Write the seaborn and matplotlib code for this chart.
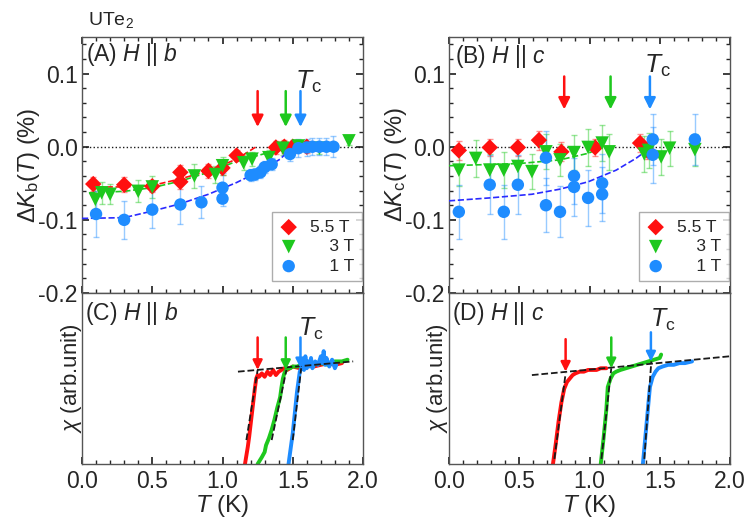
import numpy as np
import seaborn as sns
from matplotlib import pyplot as plt
from matplotlib.ticker import MultipleLocator, NullLocator

RED = "#ff1010"
GREEN = "#1ec81e"
BLUE = "#1e8cff"
FIT_BLUE = "#2a2aff"

# ---- panel A : Knight shift, H || b ----
a_T_55 = [0.08, 0.30, 0.50, 0.70, 0.70, 0.90, 1.00, 1.10, 1.38, 1.44, 1.50, 1.60]
a_K_55 = [-0.051, -0.052, -0.054, -0.035, -0.048, -0.033, -0.029, -0.012, -0.001, 0.0, 0.0, 0.0]
a_E_55 = [0.009, 0.010, 0.008, 0.010, 0.010, 0.010, 0.010, 0.008, 0.009, 0.009, 0.009, 0.008]

a_T_3 = [0.095, 0.14, 0.20, 0.40, 0.50, 0.80, 0.95, 1.00, 1.15, 1.21, 1.33, 1.43, 1.54, 1.69, 1.90]
a_K_3 = [-0.072, -0.063, -0.065, -0.061, -0.055, -0.040, -0.038, -0.026, -0.022, -0.017, -0.015,
         -0.002, 0.001, -0.002, 0.008]
a_E_3 = [0.015, 0.015, 0.014, 0.015, 0.015, 0.017, 0.012, 0.012, 0.010, 0.010, 0.010, 0.010,
         0.008, 0.008, 0.006]

a_T_1 = [0.10, 0.30, 0.50, 0.70, 0.85, 1.00, 1.00, 1.20, 1.23, 1.27, 1.30, 1.35, 1.48, 1.54,
         1.60, 1.64, 1.69, 1.74, 1.79]
a_K_1 = [-0.092, -0.100, -0.086, -0.079, -0.076, -0.071, -0.056, -0.039, -0.038, -0.035, -0.028,
         -0.024, -0.010, -0.002, -0.001, 0.0, 0.0, 0.0, 0.0]
a_E_1 = [0.032, 0.026, 0.025, 0.026, 0.022, 0.010, 0.020, 0.008, 0.008, 0.008, 0.008, 0.008,
         0.010, 0.012, 0.012, 0.012, 0.012, 0.012, 0.014]

a_fit_T_55 = [0.05, 0.30, 0.50, 0.70, 0.90, 1.10, 1.24]
a_fit_K_55 = [-0.055, -0.055, -0.053, -0.044, -0.033, -0.017, 0.0]
a_fit_T_3 = [0.05, 0.30, 0.50, 0.70, 0.90, 1.10, 1.29, 1.43]
a_fit_K_3 = [-0.063, -0.061, -0.056, -0.047, -0.035, -0.020, -0.010, 0.0]
a_fit_T_1 = [0.0, 0.30, 0.50, 0.70, 0.90, 1.10, 1.29, 1.41, 1.50]
a_fit_K_1 = [-0.098, -0.097, -0.088, -0.078, -0.065, -0.049, -0.031, -0.017, 0.0]

# ---- panel B : Knight shift, H || c ----
b_T_55 = [0.07, 0.29, 0.49, 0.64, 0.80, 1.04, 1.36, 1.41]
b_K_55 = [-0.005, -0.001, -0.001, 0.009, -0.007, -0.001, 0.005, -0.005]
b_E_55 = [0.013, 0.012, 0.012, 0.013, 0.013, 0.012, 0.012, 0.012]

b_T_3 = [0.07, 0.19, 0.29, 0.39, 0.49, 0.59, 0.69, 0.79, 0.89, 0.99, 1.09, 1.14, 1.39, 1.42,
         1.51, 1.57, 1.75]
b_K_3 = [-0.032, -0.016, -0.032, -0.032, -0.027, -0.034, -0.007, -0.018, -0.008, -0.001, 0.005,
         -0.007, -0.010, -0.005, -0.014, -0.002, -0.004]
b_E_3 = [0.022, 0.025, 0.022, 0.025, 0.024, 0.024, 0.024, 0.022, 0.024, 0.025, 0.025, 0.025,
         0.024, 0.024, 0.024, 0.024, 0.022]

b_T_1 = [0.07, 0.29, 0.39, 0.49, 0.69, 0.69, 0.79, 0.89, 0.89, 0.99, 1.09, 1.09, 1.45, 1.45, 1.75]
b_K_1 = [-0.089, -0.052, -0.089, -0.052, -0.015, -0.080, -0.089, -0.040, -0.055, -0.070, -0.050,
         -0.065, 0.010, -0.011, 0.010]
b_E_1 = [0.037, 0.040, 0.037, 0.040, 0.037, 0.037, 0.035, 0.038, 0.040, 0.038, 0.040, 0.037,
         0.035, 0.038, 0.035]

b_fit_T_3 = [0.0, 0.50, 0.79, 0.99, 1.09]
b_fit_K_3 = [-0.026, -0.023, -0.018, -0.009, -0.001]
b_fit_T_1 = [0.0, 0.29, 0.59, 0.79, 0.99, 1.19, 1.33, 1.43]
b_fit_K_1 = [-0.074, -0.070, -0.065, -0.058, -0.048, -0.032, -0.016, -0.002]

# ---- panel C : ac susceptibility, H || b (arb. units) ----
c_T_55 = [1.16, 1.17, 1.18, 1.19, 1.20, 1.21, 1.22, 1.23, 1.24, 1.25, 1.26, 1.28, 1.30, 1.32, 1.34,
          1.36, 1.38, 1.40, 1.42, 1.44, 1.46, 1.50, 1.55, 1.60, 1.65, 1.70, 1.75, 1.80, 1.85]
c_X_55 = [0.00, 0.05, 0.10, 0.16, 0.23, 0.30, 0.37, 0.44, 0.50, 0.52, 0.51, 0.53, 0.51, 0.54, 0.52,
          0.55, 0.52, 0.54, 0.55, 0.56, 0.55, 0.57, 0.56, 0.58, 0.57, 0.58, 0.59, 0.58, 0.59]
c_T_3 = [1.25, 1.28, 1.30, 1.31, 1.33, 1.35, 1.37, 1.39, 1.41, 1.42, 1.43, 1.44, 1.46, 1.48, 1.50,
         1.53, 1.56, 1.60, 1.65, 1.70, 1.75, 1.80, 1.85, 1.89]
c_X_3 = [0.00, 0.04, 0.07, 0.11, 0.15, 0.20, 0.26, 0.33, 0.39, 0.45, 0.50, 0.53, 0.56, 0.56, 0.57,
         0.57, 0.58, 0.57, 0.58, 0.59, 0.58, 0.60, 0.60, 0.61]
c_T_1 = [1.47, 1.48, 1.49, 1.50, 1.51, 1.52, 1.53, 1.54, 1.55, 1.56, 1.57, 1.58, 1.59, 1.60, 1.61,
         1.62, 1.63, 1.64, 1.66, 1.68, 1.70, 1.71, 1.72, 1.73, 1.74, 1.76, 1.78, 1.80, 1.81]
c_X_1 = [0.00, 0.06, 0.12, 0.18, 0.26, 0.34, 0.42, 0.48, 0.54, 0.56, 0.60, 0.55, 0.63, 0.56, 0.60,
         0.57, 0.62, 0.56, 0.60, 0.58, 0.63, 0.59, 0.66, 0.58, 0.62, 0.57, 0.61, 0.56, 0.58]
c_base_T = [1.11, 1.93]
c_base_X = [0.54, 0.60]
c_drop_T = [[1.17, 1.25], [1.35, 1.455], [1.50, 1.56]]
c_drop_X = [[0.14, 0.55], [0.14, 0.55], [0.14, 0.56]]

# ---- panel D : ac susceptibility, H || c (arb. units) ----
d_T_55 = [0.74, 0.76, 0.78, 0.80, 0.82, 0.84, 0.86, 0.88, 0.90, 0.93, 0.96, 0.99, 1.02, 1.05,
          1.08, 1.12]
d_X_55 = [0.00, 0.12, 0.25, 0.36, 0.44, 0.48, 0.50, 0.52, 0.53, 0.54, 0.54, 0.55, 0.55, 0.55,
          0.56, 0.56]
d_T_3 = [1.08, 1.10, 1.12, 1.13, 1.15, 1.17, 1.19, 1.22, 1.26, 1.30, 1.34, 1.38, 1.42, 1.46,
         1.50, 1.51]
d_X_3 = [0.00, 0.15, 0.32, 0.45, 0.50, 0.53, 0.54, 0.55, 0.56, 0.57, 0.58, 0.59, 0.60, 0.61,
         0.62, 0.64]
d_T_1 = [1.38, 1.40, 1.42, 1.43, 1.45, 1.47, 1.49, 1.52, 1.56, 1.60, 1.64, 1.68, 1.73]
d_X_1 = [0.00, 0.18, 0.36, 0.45, 0.51, 0.54, 0.56, 0.57, 0.58, 0.58, 0.59, 0.59, 0.60]
d_base_T = [0.59, 2.0]
d_base_X = [0.52, 0.63]
d_drop_T = [[0.75, 0.83], [1.085, 1.155], [1.39, 1.44]]
d_drop_X = [[0.03, 0.53], [0.03, 0.56], [0.03, 0.60]]

# Tc arrows: x position, tail y, tip y
tc_a = ([1.25, 1.45, 1.555], [0.076, 0.076, 0.076], [0.027, 0.027, 0.027])
tc_b = ([0.82, 1.15, 1.43], [0.096, 0.096, 0.096], [0.051, 0.051, 0.051])
tc_c = ([1.25, 1.45, 1.555], [0.74, 0.74, 0.74], [0.55, 0.55, 0.56])
tc_d = ([0.83, 1.155, 1.437], [0.73, 0.74, 0.77], [0.54, 0.56, 0.60])

labels = ["5.5 T", "\u2007\u2008 3 T", "\u2007\u2008 1 T"]
colors = [RED, GREEN, BLUE]
markers = ["D", "v", "o"]
sizes = [70, 95, 80]


def setup_top(ax):
    ax.set_xlim(0, 2)
    ax.set_ylim(-0.2, 0.15)
    ax.xaxis.set_major_locator(MultipleLocator(0.5))
    ax.xaxis.set_minor_locator(MultipleLocator(0.1))
    ax.yaxis.set_minor_locator(MultipleLocator(0.02))
    ax.set_yticks([-0.2, -0.1, 0.0, 0.1])
    ax.set_yticklabels(["-0.2", "-0.1", "0.0", "0.1"])
    ax.tick_params(which="both", direction="in", top=True, right=True, labelbottom=False)
    ax.tick_params(which="major", length=5, pad=3)
    ax.tick_params(which="minor", length=3)
    ax.axhline(0, color="k", ls=":", lw=1, zorder=1)


def setup_bottom(ax):
    ax.set_xlim(0, 2)
    ax.set_ylim(0, 1)
    ax.xaxis.set_minor_locator(MultipleLocator(0.1))
    ax.yaxis.set_major_locator(NullLocator())
    ax.tick_params(which="both", direction="in", top=False, right=False)
    ax.tick_params(which="major", length=5, pad=4)
    ax.tick_params(which="minor", length=3)
    ax.set_xticks([0, 0.5, 1.0, 1.5, 2.0])
    ax.set_xticklabels(["0.0", "0.5", "1.0", "1.5", "2.0"])


def draw_knight(ax, data, fits):
    for (T, K, E), lab, col, mk, sz in zip(data, labels, colors, markers, sizes):
        ax.errorbar(T, K, yerr=E, fmt="none", ecolor=col, alpha=0.45, elinewidth=1,
                    capsize=2, capthick=1, zorder=2)
        sns.scatterplot(x=T, y=K, ax=ax, color=col, marker=mk, s=sz, edgecolor="none",
                        label=lab, zorder=4)
    for T, K, col in fits:
        sns.lineplot(x=T, y=K, ax=ax, color=col, ls="--", lw=1.2, zorder=3)
    leg = ax.legend(loc="lower right", frameon=True, fancybox=False, fontsize=12.5,
                    edgecolor="#999999", handlelength=1.0, handletextpad=0.7,
                    borderpad=0.45, labelspacing=0.25, borderaxespad=0,
                    bbox_to_anchor=(0.995, 0.045))
    leg.get_frame().set_linewidth(1)
    ax.set_xlabel("")
    ax.set_ylabel("")


def draw_arrows(ax, spec, head):
    for x, y0, y1, col in zip(*spec, colors):
        ax.annotate("", xy=(x, y1), xytext=(x, y0),
                    arrowprops=dict(arrowstyle="-|>", color=col, lw=1.8,
                                    mutation_scale=head, shrinkA=0, shrinkB=0))


def draw_chi(ax, curves, base, drops):
    for (T, X), col in zip(curves, colors):
        sns.lineplot(x=T, y=X, ax=ax, color=col, lw=2.8, sort=False, zorder=2)
    sns.lineplot(x=base[0], y=base[1], ax=ax, color="k", ls="--", lw=1.3, zorder=3)
    for T, X in zip(*drops):
        sns.lineplot(x=T, y=X, ax=ax, color="k", ls="--", lw=1.3, zorder=3)
    ax.set_ylabel("")
    ax.set_xlabel("")


sns.set_theme(style="ticks")
plt.rcParams["font.family"] = ["Liberation Sans", "DejaVu Sans"]
plt.rcParams["mathtext.fontset"] = "custom"
plt.rcParams["mathtext.rm"] = "Liberation Sans"
plt.rcParams["mathtext.it"] = "Liberation Sans:italic"
plt.rcParams["axes.unicode_minus"] = False
plt.rcParams["font.size"] = 16
plt.rcParams["xtick.labelsize"] = 16.5
plt.rcParams["ytick.labelsize"] = 16.5
plt.rcParams["axes.edgecolor"] = "#555555"
plt.rcParams["axes.linewidth"] = 1.0

fig = plt.figure(figsize=(7.47, 5.22), dpi=100)
W, H = 747, 522
axA = fig.add_axes([82 / W, (H - 293) / H, 281 / W, 256 / H])
axC = fig.add_axes([82 / W, (H - 464) / H, 281 / W, 171 / H])
axB = fig.add_axes([449 / W, (H - 293) / H, 281 / W, 256 / H])
axD = fig.add_axes([449 / W, (H - 464) / H, 281 / W, 171 / H])

# panel A
setup_top(axA)
draw_knight(axA, [(a_T_55, a_K_55, a_E_55), (a_T_3, a_K_3, a_E_3), (a_T_1, a_K_1, a_E_1)],
            [(a_fit_T_55, a_fit_K_55, RED), (a_fit_T_3, a_fit_K_3, GREEN),
             (a_fit_T_1, a_fit_K_1, FIT_BLUE)])
draw_arrows(axA, tc_a, 17)
axA.text(1.515, 0.088, r"$T_{\rm c}$", fontsize=19, va="center")
axA.text(0.03, 0.126, r"(A) $H$ || $b$", fontsize=16.5, va="center")

# panel B
setup_top(axB)
draw_knight(axB, [(b_T_55, b_K_55, b_E_55), (b_T_3, b_K_3, b_E_3), (b_T_1, b_K_1, b_E_1)],
            [(b_fit_T_3, b_fit_K_3, GREEN), (b_fit_T_1, b_fit_K_1, FIT_BLUE)])
draw_arrows(axB, tc_b, 17)
axB.text(1.39, 0.111, r"$T_{\rm c}$", fontsize=19, va="center")
axB.text(0.04, 0.124, r"(B) $H$ || $c$", fontsize=16.5, va="center")

# panel C
setup_bottom(axC)
draw_chi(axC, [(c_T_55, c_X_55), (c_T_3, c_X_3), (c_T_1, c_X_1)], (c_base_T, c_base_X),
         (c_drop_T, c_drop_X))
draw_arrows(axC, tc_c, 14)
axC.text(1.54, 0.79, r"$T_{\rm c}$", fontsize=18, va="center")
axC.text(0.024, 0.88, r"(C) $H$ || $b$", fontsize=16.5, va="center")

# panel D
setup_bottom(axD)
draw_chi(axD, [(d_T_55, d_X_55), (d_T_3, d_X_3), (d_T_1, d_X_1)], (d_base_T, d_base_X),
         (d_drop_T, d_drop_X))
draw_arrows(axD, tc_d, 14)
axD.text(1.43, 0.84, r"$T_{\rm c}$", fontsize=18, va="center")
axD.text(0.02, 0.88, r"(D) $H$ || $c$", fontsize=16.5, va="center")

# axis titles
fig.text(29 / W, 1 - 165 / H, r"Δ$K_{\rm b}$($T$) (%)", rotation=90, fontsize=17,
         ha="center", va="center")
fig.text(396 / W, 1 - 165 / H, r"Δ$K_{\rm c}$($T$) (%)", rotation=90, fontsize=17,
         ha="center", va="center")
fig.text(71 / W, 1 - 378 / H, r"$\chi$ (arb.unit)", rotation=90, fontsize=16,
         ha="center", va="center")
fig.text(438 / W, 1 - 378 / H, r"$\chi$ (arb.unit)", rotation=90, fontsize=16,
         ha="center", va="center")
fig.text(222 / W, 1 - 506 / H, "$T$ (K)", fontsize=17.5, ha="center", va="center")
fig.text(589 / W, 1 - 506 / H, "$T$ (K)", fontsize=17.5, ha="center", va="center")

fig.text(88 / W, 1 - 25 / H, "UTe$_2$", fontsize=14, va="baseline")

fig.savefig("out.png", dpi=100)
